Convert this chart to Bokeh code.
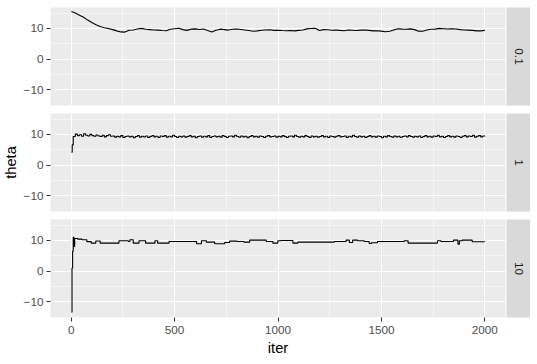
import math
from bokeh.plotting import figure
from bokeh.layouts import row, column
from bokeh.models import FixedTicker, Range1d
from bokeh.embed import file_html
from bokeh.resources import INLINE
from bokeh.core.properties import value

FONT = "Liberation Sans"

# facet labels (step size)
facets = ["0.1", "1", "10"]
y_title = "theta"
x_title = "iter"

# axis ticks
x_ticks = [0, 500, 1000, 1500, 2000]
x_minor = [250, 750, 1250, 1750]
y_ticks = [-10, 0, 10]
y_minor = [-5, 5, 15]

# panel "0.1": slow random walk from ~15.5 down to ~9.3 (every 20 iterations)
iters1 = [1] + list(range(20, 2001, 20))
theta1 = [15.5, 15.0, 14.3, 13.6, 12.7, 11.9, 11.2, 10.6, 10.2, 9.95,
          9.6, 9.2, 8.85, 8.8, 9.4, 9.5, 9.8, 10.0, 9.7, 9.6,
          9.5, 9.45, 9.3, 9.25, 9.7, 9.9, 10.05, 9.6, 9.35, 9.75,
          9.85, 9.65, 9.8, 9.3, 8.85, 9.4, 9.75, 9.6, 9.45, 9.7,
          9.8, 9.65, 9.5, 9.3, 9.05, 9.2, 9.4, 9.5, 9.55, 9.35,
          9.4, 9.3, 9.25, 9.3, 9.2, 9.35, 9.5, 9.85, 9.95, 10.05,
          9.3, 9.6, 9.55, 9.4, 9.5, 9.35, 9.25, 9.45, 9.4, 9.3,
          9.45, 9.5, 9.35, 9.2, 9.25, 9.1, 8.9, 9.05, 9.5, 9.9,
          9.75, 9.7, 9.85, 9.6, 9.1, 9.05, 9.45, 9.7, 9.75, 10.0,
          9.9, 9.8, 9.85, 9.8, 9.6, 9.5, 9.45, 9.35, 9.2, 9.2,
          9.35]

# panel "1": fast-mixing chain
iters2 = [1, 5] + list(range(10, 2001, 10))
theta2 = [4.2, 6.6,
          9.3, 10.1, 9.6, 9.9, 9.4, 10.2, 9.7, 9.5, 10.0, 9.6, 9.4, 9.8, 9.5, 9.3, 9.7, 9.2, 9.6, 9.9, 9.4, 9.5,
          9.1, 9.4, 9.2, 9.6, 9.0, 9.3, 9.5, 9.2, 9.4, 8.9, 9.3, 9.6, 9.1, 9.4, 9.2, 9.5, 9.0, 9.3, 9.6, 9.2,
          9.4, 9.0, 9.5, 9.3, 9.6, 9.1, 9.4, 9.2, 9.7, 9.3, 9.0, 9.4, 9.2, 9.5, 9.1, 9.3, 9.6, 9.2, 9.4, 8.9,
          9.3, 9.5, 9.1, 9.4, 9.2, 9.6, 9.0, 9.3, 9.5, 9.2, 9.4, 9.1, 9.6, 9.3, 9.0, 9.4, 9.5, 9.2, 9.7, 9.3,
          9.1, 9.5, 9.2, 9.4, 8.9, 9.3, 9.6, 9.2, 9.4, 9.1, 9.5, 9.3, 9.0, 9.4, 9.6, 9.2, 9.3, 9.5, 9.1, 9.4,
          9.2, 9.6, 9.3, 9.0, 9.4, 9.5, 9.2, 9.7, 9.3, 9.1, 9.4, 9.2, 9.6, 9.3, 9.0, 9.5, 9.2, 9.4, 9.1, 9.3,
          9.6, 9.2, 9.4, 9.0, 9.5, 9.3, 9.1, 9.4, 9.6, 9.2, 9.3, 9.5, 9.0, 9.4, 9.2, 9.7, 9.3, 9.1, 9.5, 9.2,
          9.4, 9.0, 9.3, 9.6, 9.2, 9.4, 9.1, 9.5, 9.3, 8.9, 9.4, 9.2, 9.6, 9.3, 9.1, 9.5, 9.2, 9.4, 9.0, 9.3,
          9.5, 9.2, 9.6, 9.3, 9.1, 9.4, 9.2, 9.5, 9.0, 9.3, 9.6, 9.2, 9.4, 9.1, 9.5, 9.3, 9.7, 9.2, 9.4, 9.0,
          9.3, 9.6, 9.2, 9.4, 9.1, 9.5, 9.3, 9.0, 9.4, 9.6, 9.2, 9.5, 9.3, 9.7, 9.1, 9.4, 9.6, 9.2, 9.5, 9.3]

# panel "10": sticky chain (value changes at these iterations)
iters3 = [1, 4, 7, 10, 13, 17, 32, 52, 76, 97, 119, 140, 231, 276, 284, 300, 328, 360, 405, 418,
          473, 606, 630, 654, 694, 742, 766, 803, 835, 863, 943, 975, 999, 1015, 1072, 1096, 1272,
          1329, 1345, 1361, 1385, 1417, 1441, 1452, 1481, 1610, 1629, 1771, 1787, 1848, 1870, 1877,
          1891, 1939, 2000]
theta3 = [-13.4, 1.0, 6.5, 11.0, 8.0, 10.6, 10.4, 10.2, 9.6, 9.1, 9.8, 9.1, 9.9, 9.65, 10.2, 9.1,
          9.9, 9.1, 9.9, 9.1, 9.65, 8.9, 9.9, 9.43, 8.9, 9.33, 9.76, 9.65, 9.43, 10.08, 9.65, 9.11,
          9.87, 9.98, 9.11, 9.43, 9.65, 10.08, 9.33, 10.08, 9.87, 9.65, 9.0, 9.22, 9.65, 9.87, 9.11,
          9.87, 9.65, 10.08, 8.79, 9.87, 10.08, 9.54, 9.54]

series = [(iters1, theta1, "line"), (iters2, theta2, "step"), (iters3, theta3, "step")]

TICK_FS = "11.73px"
TITLE_FS = "14.67px"
TOTAL_H = 364
TITLE_W = 20


def make_panel(xs, ys, kind, top, bottom, show_x):
    p = figure(frame_width=455, frame_height=98,
               min_border_left=30, min_border_right=1,
               min_border_top=top, min_border_bottom=bottom,
               x_range=Range1d(-99.95, 2099.95), y_range=Range1d(-15.1, 16.8),
               output_backend="svg", toolbar_location=None,
               background_fill_color="#EBEBEB", border_fill_color="white",
               outline_line_color=None)
    for g, tk, mn in ((p.xgrid, x_ticks, x_minor), (p.ygrid, y_ticks, y_minor)):
        g.ticker = FixedTicker(ticks=tk, minor_ticks=mn)
        g.grid_line_color = "white"
        g.grid_line_width = 1.07
        g.minor_grid_line_color = "white"
        g.minor_grid_line_width = 0.53
    for ax in (p.xaxis, p.yaxis):
        ax.axis_line_color = None
        ax.major_tick_in = 0
        ax.major_tick_out = 4
        ax.major_tick_line_color = "#333333"
        ax.major_tick_line_width = 1.07
        ax.minor_tick_line_color = None
        ax.major_label_text_font = FONT
        ax.major_label_text_font_size = TICK_FS
        ax.major_label_text_color = "#4D4D4D"
        ax.axis_label_text_font = FONT
        ax.axis_label_text_font_size = TITLE_FS
        ax.axis_label_text_font_style = "normal"
        ax.axis_label_text_color = "black"
    p.xaxis.ticker = FixedTicker(ticks=x_ticks)
    p.yaxis.ticker = FixedTicker(ticks=y_ticks)
    p.yaxis.major_label_standoff = 3
    p.xaxis.major_label_standoff = 4
    p.xaxis.axis_label_standoff = 3
    if show_x:
        p.xaxis.axis_label = x_title
    else:
        p.xaxis.visible = False
    if kind == "line":
        p.line(xs, ys, line_color="black", line_width=1.1)
    else:
        p.step(xs, ys, mode="after", line_color="black", line_width=1.1)
    return p


def make_strip(label, top, bottom):
    s = figure(frame_width=24, frame_height=98,
               min_border_left=0, min_border_right=0,
               min_border_top=top, min_border_bottom=bottom,
               x_range=Range1d(0, 1), y_range=Range1d(0, 1),
               output_backend="svg", toolbar_location=None,
               background_fill_color="#D9D9D9", border_fill_color="white",
               outline_line_color=None, x_axis_location=None, y_axis_location=None)
    s.xgrid.visible = False
    s.ygrid.visible = False
    s.text(x=[0.5], y=[0.5], text=[label], angle=-math.pi / 2,
           text_align="center", text_baseline="middle",
           text_font=value(FONT), text_font_size=TICK_FS, text_color="#1A1A1A")
    return s


# narrow column holding the shared y-axis title
title_fig = figure(width=TITLE_W, height=TOTAL_H, min_border=0,
                   x_range=Range1d(0, TITLE_W), y_range=Range1d(TOTAL_H, 0),
                   output_backend="svg", toolbar_location=None,
                   background_fill_color="white", border_fill_color="white",
                   outline_line_color=None, x_axis_location=None, y_axis_location=None)
title_fig.xgrid.visible = False
title_fig.ygrid.visible = False
title_fig.text(x=[TITLE_W / 2], y=[162], text=[y_title], angle=math.pi / 2,
               text_align="center", text_baseline="middle",
               text_font=value(FONT), text_font_size=TITLE_FS, text_color="black")

borders = [(7, 4), (4, 4), (4, 47)]
rows = []
for i, ((xs, ys, kind), lab, (t, b)) in enumerate(zip(series, facets, borders)):
    p = make_panel(xs, ys, kind, t, b, i == 2)
    s = make_strip(lab, t, b)
    rows.append(row(p, s))

layout = row(title_fig, column(*rows))
open("out.html", "w").write(file_html(layout, INLINE))
